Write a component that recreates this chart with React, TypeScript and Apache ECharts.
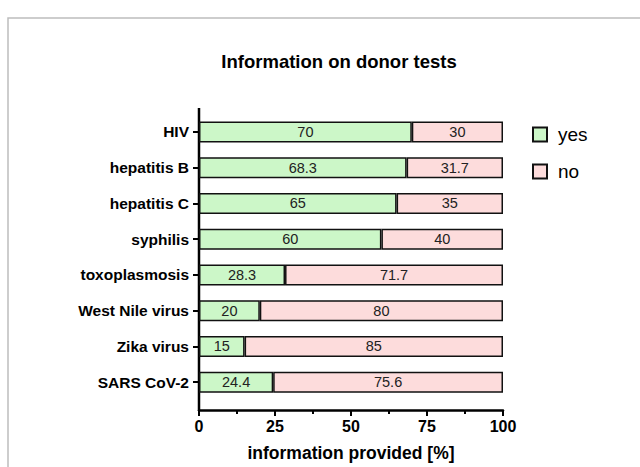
import React, { useEffect, useRef } from "react";
import * as echarts from "echarts";

const categories = [
  "HIV",
  "hepatitis B",
  "hepatitis C",
  "syphilis",
  "toxoplasmosis",
  "West Nile virus",
  "Zika virus",
  "SARS CoV-2",
];
const yesValues = [70, 68.3, 65, 60, 28.3, 20, 15, 24.4];
const noValues = [30, 31.7, 35, 40, 71.7, 80, 85, 75.6];
const xTicks = [0, 25, 50, 75, 100];

const FONT = "'Liberation Sans', Arial, sans-serif";

export default function App() {
  const ref = useRef<HTMLDivElement>(null);
  useEffect(() => {
    if (!ref.current) return;
    const chart = echarts.init(ref.current, undefined, { renderer: "svg" });
    const labelStyle = {
      show: true,
      position: "inside" as const,
      color: "#222",
      fontSize: 14.5,
      fontFamily: FONT,
    };
    chart.setOption({
      animation: false,
      backgroundColor: "#fff",
      title: {
        text: "Information on donor tests",
        left: 334,
        top: 47,
        textAlign: "center",
        textStyle: { fontSize: 18.5, fontWeight: "bold", color: "#000", fontFamily: FONT },
      },
      legend: {
        orient: "vertical",
        left: 527,
        top: 120,
        itemWidth: 14,
        itemHeight: 14,
        itemGap: 18,
        icon: "rect",
        textStyle: { fontSize: 19, color: "#000", fontFamily: FONT, padding: [0, 0, 0, 6] },
        data: ["yes", "no"],
      },
      grid: { left: 199, right: 137, top: 114, bottom: 67 },
      xAxis: {
        type: "value",
        min: 0,
        max: 100,
        interval: 25,
        offset: 10,
        name: "information provided [%]",
        nameLocation: "middle",
        nameGap: 34,
        nameTextStyle: { fontSize: 17.5, fontWeight: "bold", color: "#000", fontFamily: FONT },
        axisLine: { show: true, lineStyle: { color: "#000", width: 2.5 } },
        axisTick: { show: true, length: 6, lineStyle: { color: "#000", width: 2 } },
        minorTick: { show: true, splitNumber: 2, length: 4, lineStyle: { color: "#000", width: 2 } },
        splitLine: { show: false },
        axisLabel: {
          fontSize: 16,
          fontWeight: "bold",
          color: "#000",
          fontFamily: FONT,
          margin: 8,
          formatter: (v: number) => (xTicks.includes(v) ? String(v) : ""),
        },
      },
      yAxis: {
        type: "category",
        inverse: true,
        data: categories,
        axisLine: { show: false },
        axisTick: { show: true, alignWithLabel: true, length: 6, lineStyle: { color: "#000", width: 2 } },
        axisLabel: { fontSize: 15.5, fontWeight: "bold", color: "#000", fontFamily: FONT, margin: 10 },
      },
      graphic: [
        {
          type: "rect",
          shape: { x: 8, y: 18, width: 700, height: 600 },
          style: { fill: "none", stroke: "#bdbdbd", lineWidth: 1.5 },
          silent: true,
        },
        {
          type: "line",
          shape: { x1: 199, y1: 108, x2: 199, y2: 411 },
          style: { stroke: "#000", lineWidth: 2.5 },
          silent: true,
        },
      ],
      series: [
        {
          name: "yes",
          type: "bar",
          stack: "total",
          barWidth: 21,
          data: yesValues,
          itemStyle: { color: "#ccf7c8", borderColor: "#111", borderWidth: 1.5 },
          label: labelStyle,
        },
        {
          name: "no",
          type: "bar",
          stack: "total",
          barWidth: 21,
          data: noValues,
          itemStyle: { color: "#fddcdc", borderColor: "#111", borderWidth: 1.5 },
          label: labelStyle,
        },
      ],
    });
    return () => chart.dispose();
  }, []);
  return (
    <div
      ref={ref}
      style={{ position: "fixed", left: 0, top: 0, width: 640, height: 467 }}
    />
  );
}
